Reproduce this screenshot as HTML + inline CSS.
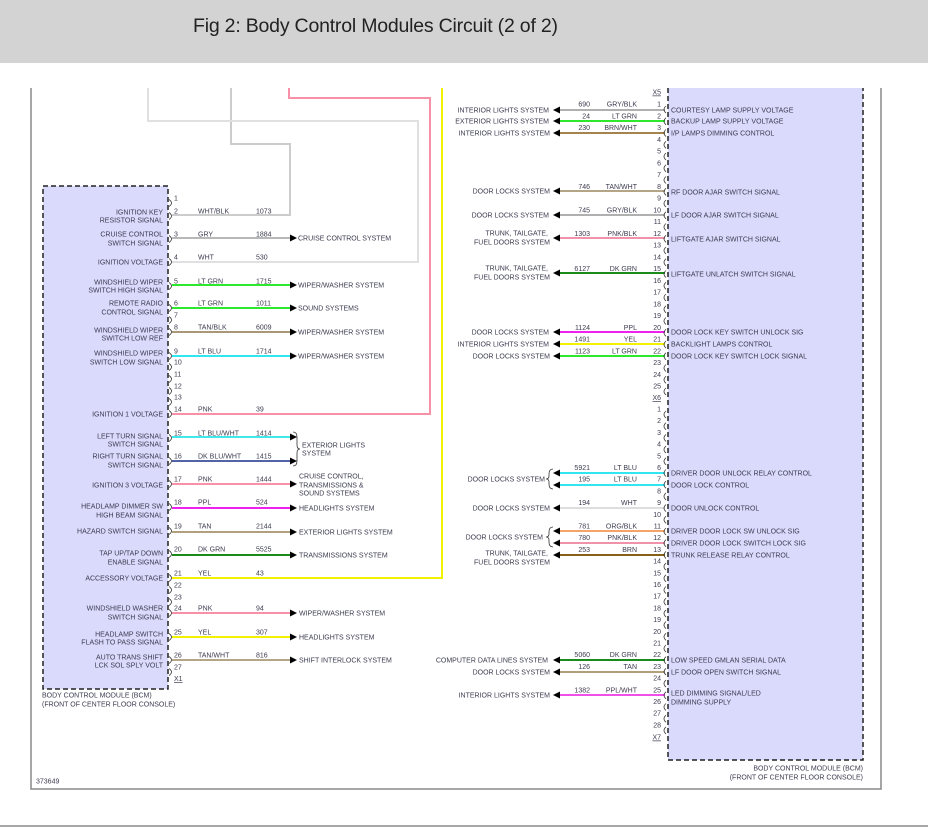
<!DOCTYPE html>
<html><head><meta charset="utf-8"><style>
html,body{margin:0;padding:0;background:#fff;}
svg{display:block;}
text{font-family:"Liberation Sans",Arial,sans-serif;font-size:7px;fill:#3c3c50;}
.t{font-size:19.5px;fill:#222;}
.e{text-anchor:end;}
.w{fill:none;stroke-width:2;}
.c{fill:none;stroke:#333;stroke-width:0.8;}
</style></head><body>
<svg width="928" height="827" viewBox="0 0 928 827" xmlns="http://www.w3.org/2000/svg">
<rect x="0" y="0" width="928" height="63" fill="#d3d3d3"/>
<text class="t" x="193" y="32" textLength="365">Fig 2: Body Control Modules Circuit (2 of 2)</text>
<line x1="0" y1="826" x2="928" y2="826" stroke="#8a8a8a" stroke-width="1.5"/>
<path d="M31,88 V789 H881 V88" fill="none" stroke="#888" stroke-width="1.5"/>

<!-- modules -->
<rect x="43" y="186" width="125" height="503" fill="#dadafc" stroke="#222" stroke-width="1.5" stroke-dasharray="5,3"/>
<path d="M668,88 V760 H863 V88" fill="#dadafc" stroke="#222" stroke-width="1.5" stroke-dasharray="5,3"/>

<!-- left long wires -->
<path class="w" stroke="#cccccc" d="M172,215 H290 V144 H231 V88"/>
<path class="w" stroke="#e0e0e0" d="M172,262 H418 V121 H148 V88"/>
<path class="w" stroke="#f890a8" d="M172,414 H430 V98 H289 V88"/>
<path class="w" stroke="#f2f200" d="M172,578 H442 V88"/>

<!-- left wires with arrows -->
<path class="w" stroke="#b8b8b8" d="M172,238 H290"/>
<path class="w" stroke="#2ee82e" d="M172,285 H290"/>
<path class="w" stroke="#2ee82e" d="M172,308 H290"/>
<path class="w" stroke="#a89878" d="M172,332 H290"/>
<path class="w" stroke="#30e6f0" d="M172,356 H290"/>
<path class="w" stroke="#40e8ec" d="M172,437 H290"/>
<path class="w" stroke="#5363a8" d="M172,461 H290"/>
<path class="w" stroke="#f890a8" d="M172,484 H290"/>
<path class="w" stroke="#f020f0" d="M172,508 H290"/>
<path class="w" stroke="#b0a07c" d="M172,532 H290"/>
<path class="w" stroke="#1a8a1a" d="M172,555 H290"/>
<path class="w" stroke="#f890a8" d="M172,613 H290"/>
<path class="w" stroke="#f2f200" d="M172,637 H290"/>
<path class="w" stroke="#b3a585" d="M172,660 H290"/>
<g fill="#000">
<polygon points="290,234.5 297,238 290,241.5"/>
<polygon points="290,281.5 297,285 290,288.5"/>
<polygon points="290,304.5 297,308 290,311.5"/>
<polygon points="290,328.5 297,332 290,335.5"/>
<polygon points="290,352.5 297,356 290,359.5"/>
<polygon points="290,433.5 297,437 290,440.5"/>
<polygon points="290,457.5 297,461 290,464.5"/>
<polygon points="290,480.5 297,484 290,487.5"/>
<polygon points="290,504.5 297,508 290,511.5"/>
<polygon points="290,528.5 297,532 290,535.5"/>
<polygon points="290,551.5 297,555 290,558.5"/>
<polygon points="290,609.5 297,613 290,616.5"/>
<polygon points="290,633.5 297,637 290,640.5"/>
<polygon points="290,656.5 297,660 290,663.5"/>
</g>
<path class="c" d="M293,432 Q297,432 297,437 V445 Q297,449 300,449 Q297,449 297,453 V461 Q297,466 293,466"/>

<!-- left connector marks -->
<g class="c">
<path d="M169,199.5 Q174,203 169,206.5"/><path d="M169,212.5 Q174,216 169,219.5"/><path d="M169,235.5 Q174,239 169,242.5"/>
<path d="M169,258.5 Q174,262 169,265.5"/><path d="M169,282.5 Q174,286 169,289.5"/><path d="M169,304.5 Q174,308 169,311.5"/>
<path d="M169,316.5 Q174,320 169,323.5"/><path d="M169,328.5 Q174,332 169,335.5"/><path d="M169,352.5 Q174,356 169,359.5"/>
<path d="M169,363.5 Q174,367 169,370.5"/><path d="M169,375.5 Q174,379 169,382.5"/><path d="M169,387.5 Q174,391 169,394.5"/>
<path d="M169,398.5 Q174,402 169,405.5"/><path d="M169,410.5 Q174,414 169,417.5"/><path d="M169,434.5 Q174,438 169,441.5"/>
<path d="M169,457.5 Q174,461 169,464.5"/><path d="M169,480.5 Q174,484 169,487.5"/><path d="M169,503.5 Q174,507 169,510.5"/>
<path d="M169,527.5 Q174,531 169,534.5"/><path d="M169,550.5 Q174,554 169,557.5"/><path d="M169,574.5 Q174,578 169,581.5"/>
<path d="M169,586.5 Q174,590 169,593.5"/><path d="M169,598.5 Q174,602 169,605.5"/><path d="M169,609.5 Q174,613 169,616.5"/>
<path d="M169,633.5 Q174,637 169,640.5"/><path d="M169,656.5 Q174,660 169,663.5"/><path d="M169,668.5 Q174,672 169,675.5"/>
</g>

<!-- left pin numbers -->
<g>
<text x="174" y="200.5">1</text><text x="174" y="213.5">2</text><text x="174" y="236.5">3</text><text x="174" y="259.5">4</text>
<text x="174" y="283.5">5</text><text x="174" y="305.5">6</text><text x="174" y="317.5">7</text><text x="174" y="329.5">8</text>
<text x="174" y="353.5">9</text><text x="174" y="364.5">10</text><text x="174" y="376.5">11</text><text x="174" y="388.5">12</text>
<text x="174" y="399.5">13</text><text x="174" y="411.5">14</text><text x="174" y="435.5">15</text><text x="174" y="458.5">16</text>
<text x="174" y="481.5">17</text><text x="174" y="504.5">18</text><text x="174" y="528.5">19</text><text x="174" y="551.5">20</text>
<text x="174" y="575.5">21</text><text x="174" y="587.5">22</text><text x="174" y="599.5">23</text><text x="174" y="610.5">24</text>
<text x="174" y="634.5">25</text><text x="174" y="657.5">26</text><text x="174" y="669.5">27</text>
<text x="174" y="681" text-decoration="underline">X1</text>
</g>
<!-- left colors & circuits -->
<g>
<text x="198" y="213.5">WHT/BLK</text><text x="256" y="213.5">1073</text>
<text x="198" y="236.5">GRY</text><text x="256" y="236.5">1884</text>
<text x="198" y="259.5">WHT</text><text x="256" y="259.5">530</text>
<text x="198" y="283.5">LT GRN</text><text x="256" y="283.5">1715</text>
<text x="198" y="305.5">LT GRN</text><text x="256" y="305.5">1011</text>
<text x="198" y="329.5">TAN/BLK</text><text x="256" y="329.5">6009</text>
<text x="198" y="353.5">LT BLU</text><text x="256" y="353.5">1714</text>
<text x="198" y="411.5">PNK</text><text x="256" y="411.5">39</text>
<text x="198" y="435.5">LT BLU/WHT</text><text x="256" y="435.5">1414</text>
<text x="198" y="458.5">DK BLU/WHT</text><text x="256" y="458.5">1415</text>
<text x="198" y="481.5">PNK</text><text x="256" y="481.5">1444</text>
<text x="198" y="504.5">PPL</text><text x="256" y="504.5">524</text>
<text x="198" y="528.5">TAN</text><text x="256" y="528.5">2144</text>
<text x="198" y="551.5">DK GRN</text><text x="256" y="551.5">5525</text>
<text x="198" y="575.5">YEL</text><text x="256" y="575.5">43</text>
<text x="198" y="610.5">PNK</text><text x="256" y="610.5">94</text>
<text x="198" y="634.5">YEL</text><text x="256" y="634.5">307</text>
<text x="198" y="657.5">TAN/WHT</text><text x="256" y="657.5">816</text>
</g>
<!-- left destinations -->
<g>
<text x="298" y="240.5">CRUISE CONTROL SYSTEM</text>
<text x="298" y="287.5">WIPER/WASHER SYSTEM</text>
<text x="298" y="310.5">SOUND SYSTEMS</text>
<text x="298" y="334.5">WIPER/WASHER SYSTEM</text>
<text x="298" y="358.5">WIPER/WASHER SYSTEM</text>
<text x="302" y="447.5">EXTERIOR LIGHTS</text>
<text x="302" y="455.5">SYSTEM</text>
<text x="299" y="478.5">CRUISE CONTROL,</text>
<text x="299" y="487.5">TRANSMISSIONS &amp;</text>
<text x="299" y="495.5">SOUND SYSTEMS</text>
<text x="299" y="510.5">HEADLIGHTS SYSTEM</text>
<text x="299" y="534.5">EXTERIOR LIGHTS SYSTEM</text>
<text x="299" y="557.5">TRANSMISSIONS SYSTEM</text>
<text x="299" y="615.5">WIPER/WASHER SYSTEM</text>
<text x="299" y="639.5">HEADLIGHTS SYSTEM</text>
<text x="299" y="662.5">SHIFT INTERLOCK SYSTEM</text>
</g>
<!-- left module labels -->
<g class="e">
<text class="e" x="163" y="214.5">IGNITION KEY</text><text class="e" x="163" y="222.5">RESISTOR SIGNAL</text>
<text class="e" x="163" y="236.5">CRUISE CONTROL</text><text class="e" x="163" y="245.5">SWITCH SIGNAL</text>
<text class="e" x="163" y="264.5">IGNITION VOLTAGE</text>
<text class="e" x="163" y="284.5">WINDSHIELD WIPER</text><text class="e" x="163" y="292.5">SWITCH HIGH SIGNAL</text>
<text class="e" x="163" y="305.5">REMOTE RADIO</text><text class="e" x="163" y="314.5">CONTROL SIGNAL</text>
<text class="e" x="163" y="332.5">WINDSHIELD WIPER</text><text class="e" x="163" y="340.5">SWITCH LOW REF</text>
<text class="e" x="163" y="355.5">WINDSHIELD WIPER</text><text class="e" x="163" y="364.5">SWITCH LOW SIGNAL</text>
<text class="e" x="163" y="416.5">IGNITION 1 VOLTAGE</text>
<text class="e" x="163" y="438.5">LEFT TURN SIGNAL</text><text class="e" x="163" y="446.5">SWITCH SIGNAL</text>
<text class="e" x="163" y="458.5">RIGHT TURN SIGNAL</text><text class="e" x="163" y="467.5">SWITCH SIGNAL</text>
<text class="e" x="163" y="487.5">IGNITION 3 VOLTAGE</text>
<text class="e" x="163" y="508.5">HEADLAMP DIMMER SW</text><text class="e" x="163" y="517.5">HIGH BEAM SIGNAL</text>
<text class="e" x="163" y="533.5">HAZARD SWITCH SIGNAL</text>
<text class="e" x="163" y="555.5">TAP UP/TAP DOWN</text><text class="e" x="163" y="564.5">ENABLE SIGNAL</text>
<text class="e" x="163" y="580.5">ACCESSORY VOLTAGE</text>
<text class="e" x="163" y="610.5">WINDSHIELD WASHER</text><text class="e" x="163" y="619.5">SWITCH SIGNAL</text>
<text class="e" x="163" y="636.5">HEADLAMP SWITCH</text><text class="e" x="163" y="644.5">FLASH TO PASS SIGNAL</text>
<text class="e" x="163" y="659.5">AUTO TRANS SHIFT</text><text class="e" x="163" y="667.5">LCK SOL SPLY VOLT</text>
</g>
<text x="42" y="697.5">BODY CONTROL MODULE (BCM)</text>
<text x="42" y="706.5">(FRONT OF CENTER FLOOR CONSOLE)</text>
<text x="36" y="783.5">373649</text>

<!-- right wires -->
<path class="w" stroke="#b0b0b0" d="M560,110 H665"/>
<path class="w" stroke="#2ee82e" d="M560,121 H665"/>
<path class="w" stroke="#a4844c" d="M560,133 H665"/>
<path class="w" stroke="#b3a585" d="M560,191 H665"/>
<path class="w" stroke="#b0b0b0" d="M560,215 H665"/>
<path class="w" stroke="#f092aa" d="M560,238 H665"/>
<path class="w" stroke="#1a8a1a" d="M560,273 H665"/>
<path class="w" stroke="#f020f0" d="M560,332 H665"/>
<path class="w" stroke="#f2f200" d="M560,344 H665"/>
<path class="w" stroke="#2ee82e" d="M560,356 H665"/>
<path class="w" stroke="#30e6f0" d="M560,473 H665"/>
<path class="w" stroke="#30e6f0" d="M560,485 H665"/>
<path class="w" stroke="#dedede" d="M560,508 H665"/>
<path class="w" stroke="#f4a468" d="M560,531 H665"/>
<path class="w" stroke="#f092aa" d="M560,543 H665"/>
<path class="w" stroke="#866018" d="M560,555 H665"/>
<path class="w" stroke="#1a8a1a" d="M560,660 H665"/>
<path class="w" stroke="#b0a07c" d="M560,672 H665"/>
<path class="w" stroke="#f050e8" d="M560,695 H665"/>
<g fill="#000">
<polygon points="553,110 560,106.5 560,113.5"/>
<polygon points="553,121 560,117.5 560,124.5"/>
<polygon points="553,133 560,129.5 560,136.5"/>
<polygon points="553,191 560,187.5 560,194.5"/>
<polygon points="553,215 560,211.5 560,218.5"/>
<polygon points="553,238 560,234.5 560,241.5"/>
<polygon points="553,273 560,269.5 560,276.5"/>
<polygon points="553,332 560,328.5 560,335.5"/>
<polygon points="553,344 560,340.5 560,347.5"/>
<polygon points="553,356 560,352.5 560,359.5"/>
<polygon points="553,473 560,469.5 560,476.5"/>
<polygon points="553,485 560,481.5 560,488.5"/>
<polygon points="553,508 560,504.5 560,511.5"/>
<polygon points="553,531 560,527.5 560,534.5"/>
<polygon points="553,543 560,539.5 560,546.5"/>
<polygon points="553,555 560,551.5 560,558.5"/>
<polygon points="553,660 560,656.5 560,663.5"/>
<polygon points="553,672 560,668.5 560,675.5"/>
<polygon points="553,695 560,691.5 560,698.5"/>
</g>
<path class="c" d="M553,469 Q549,469 549,474 V476 Q549,479 546,479 Q549,479 549,482 V484 Q549,489 553,489"/>
<path class="c" d="M553,527 Q549,527 549,532 V534 Q549,537 546,537 Q549,537 549,540 V542 Q549,547 553,547"/>

<!-- right connector marks -->
<g class="c">
<path d="M666,106 Q662,109.5 666,113"/><path d="M666,117.8 Q662,121.3 666,124.8"/><path d="M666,129.5 Q662,133 666,136.5"/>
<path d="M666,141.3 Q662,144.8 666,148.3"/><path d="M666,153 Q662,156.5 666,160"/><path d="M666,164.8 Q662,168.3 666,171.8"/>
<path d="M666,176.5 Q662,180 666,183.5"/><path d="M666,188.3 Q662,191.8 666,195.3"/><path d="M666,200 Q662,203.5 666,207"/>
<path d="M666,211.8 Q662,215.3 666,218.8"/><path d="M666,223.5 Q662,227 666,230.5"/><path d="M666,235.3 Q662,238.8 666,242.3"/>
<path d="M666,247 Q662,250.5 666,254"/><path d="M666,258.8 Q662,262.3 666,265.8"/><path d="M666,270.5 Q662,274 666,277.5"/>
<path d="M666,282.3 Q662,285.8 666,289.3"/><path d="M666,294 Q662,297.5 666,301"/><path d="M666,305.8 Q662,309.3 666,312.8"/>
<path d="M666,317.5 Q662,321 666,324.5"/><path d="M666,329.3 Q662,332.8 666,336.3"/><path d="M666,341 Q662,344.5 666,348"/>
<path d="M666,352.8 Q662,356.3 666,359.8"/><path d="M666,364.5 Q662,368 666,371.5"/><path d="M666,376.3 Q662,379.8 666,383.3"/>
<path d="M666,388 Q662,391.5 666,395"/>
<path d="M666,411 Q662,414.5 666,418"/><path d="M666,422.7 Q662,426.2 666,429.7"/><path d="M666,434.4 Q662,437.9 666,441.4"/>
<path d="M666,446.1 Q662,449.6 666,453.1"/><path d="M666,457.8 Q662,461.3 666,464.8"/><path d="M666,469.5 Q662,473 666,476.5"/>
<path d="M666,481.2 Q662,484.7 666,488.2"/><path d="M666,492.9 Q662,496.4 666,499.9"/><path d="M666,504.6 Q662,508.1 666,511.6"/>
<path d="M666,516.3 Q662,519.8 666,523.3"/><path d="M666,528 Q662,531.5 666,535"/><path d="M666,539.7 Q662,543.2 666,546.7"/>
<path d="M666,551.4 Q662,554.9 666,558.4"/><path d="M666,563.1 Q662,566.6 666,570.1"/><path d="M666,574.8 Q662,578.3 666,581.8"/>
<path d="M666,586.5 Q662,590 666,593.5"/><path d="M666,598.2 Q662,601.7 666,605.2"/><path d="M666,609.9 Q662,613.4 666,616.9"/>
<path d="M666,621.6 Q662,625.1 666,628.6"/><path d="M666,633.3 Q662,636.8 666,640.3"/><path d="M666,645 Q662,648.5 666,652"/>
<path d="M666,656.7 Q662,660.2 666,663.7"/><path d="M666,668.4 Q662,671.9 666,674.9"/><path d="M666,680.1 Q662,683.6 666,687.1"/>
<path d="M666,691.8 Q662,695.3 666,698.8"/><path d="M666,703.5 Q662,707 666,710.5"/><path d="M666,715.2 Q662,718.7 666,722.2"/>
<path d="M666,726.9 Q662,730.4 666,733.9"/>
</g>

<!-- right pin numbers -->
<g>
<text class="e" x="661" y="94.5" text-decoration="underline">X5</text>
<text class="e" x="661" y="106.5">1</text><text class="e" x="661" y="118.3">2</text><text class="e" x="661" y="130">3</text>
<text class="e" x="661" y="141.8">4</text><text class="e" x="661" y="153.5">5</text><text class="e" x="661" y="165.3">6</text>
<text class="e" x="661" y="177">7</text><text class="e" x="661" y="188.8">8</text><text class="e" x="661" y="200.5">9</text>
<text class="e" x="661" y="212.3">10</text><text class="e" x="661" y="224">11</text><text class="e" x="661" y="235.8">12</text>
<text class="e" x="661" y="247.5">13</text><text class="e" x="661" y="259.3">14</text><text class="e" x="661" y="271">15</text>
<text class="e" x="661" y="282.8">16</text><text class="e" x="661" y="294.5">17</text><text class="e" x="661" y="306.3">18</text>
<text class="e" x="661" y="318">19</text><text class="e" x="661" y="329.8">20</text><text class="e" x="661" y="341.5">21</text>
<text class="e" x="661" y="353.3">22</text><text class="e" x="661" y="365">23</text><text class="e" x="661" y="376.8">24</text>
<text class="e" x="661" y="388.5">25</text>
<text class="e" x="661" y="400" text-decoration="underline">X6</text>
<text class="e" x="661" y="411.5">1</text><text class="e" x="661" y="423.2">2</text><text class="e" x="661" y="434.9">3</text>
<text class="e" x="661" y="446.6">4</text><text class="e" x="661" y="458.3">5</text><text class="e" x="661" y="470">6</text>
<text class="e" x="661" y="481.7">7</text><text class="e" x="661" y="493.4">8</text><text class="e" x="661" y="505.1">9</text>
<text class="e" x="661" y="516.8">10</text><text class="e" x="661" y="528.5">11</text><text class="e" x="661" y="540.2">12</text>
<text class="e" x="661" y="551.9">13</text><text class="e" x="661" y="563.6">14</text><text class="e" x="661" y="575.3">15</text>
<text class="e" x="661" y="587">16</text><text class="e" x="661" y="598.7">17</text><text class="e" x="661" y="610.4">18</text>
<text class="e" x="661" y="622.1">19</text><text class="e" x="661" y="633.8">20</text><text class="e" x="661" y="645.5">21</text>
<text class="e" x="661" y="657.2">22</text><text class="e" x="661" y="668.9">23</text><text class="e" x="661" y="680.6">24</text>
<text class="e" x="661" y="692.3">25</text><text class="e" x="661" y="704">26</text><text class="e" x="661" y="715.7">27</text>
<text class="e" x="661" y="727.4">28</text>
<text class="e" x="661" y="739.5" text-decoration="underline">X7</text>
</g>
<!-- right circuits & colors -->
<g>
<text class="e" x="590" y="106.5">690</text><text class="e" x="637" y="106.5">GRY/BLK</text>
<text class="e" x="590" y="118.3">24</text><text class="e" x="637" y="118.3">LT GRN</text>
<text class="e" x="590" y="130">230</text><text class="e" x="637" y="130">BRN/WHT</text>
<text class="e" x="590" y="188.8">746</text><text class="e" x="637" y="188.8">TAN/WHT</text>
<text class="e" x="590" y="212.3">745</text><text class="e" x="637" y="212.3">GRY/BLK</text>
<text class="e" x="590" y="235.8">1303</text><text class="e" x="637" y="235.8">PNK/BLK</text>
<text class="e" x="590" y="271">6127</text><text class="e" x="637" y="271">DK GRN</text>
<text class="e" x="590" y="329.8">1124</text><text class="e" x="637" y="329.8">PPL</text>
<text class="e" x="590" y="341.5">1491</text><text class="e" x="637" y="341.5">YEL</text>
<text class="e" x="590" y="353.3">1123</text><text class="e" x="637" y="353.3">LT GRN</text>
<text class="e" x="590" y="470">5921</text><text class="e" x="637" y="470">LT BLU</text>
<text class="e" x="590" y="481.7">195</text><text class="e" x="637" y="481.7">LT BLU</text>
<text class="e" x="590" y="505.1">194</text><text class="e" x="637" y="505.1">WHT</text>
<text class="e" x="590" y="528.5">781</text><text class="e" x="637" y="528.5">ORG/BLK</text>
<text class="e" x="590" y="540.2">780</text><text class="e" x="637" y="540.2">PNK/BLK</text>
<text class="e" x="590" y="551.9">253</text><text class="e" x="637" y="551.9">BRN</text>
<text class="e" x="590" y="657.2">5060</text><text class="e" x="637" y="657.2">DK GRN</text>
<text class="e" x="590" y="668.9">126</text><text class="e" x="637" y="668.9">TAN</text>
<text class="e" x="590" y="692.3">1382</text><text class="e" x="637" y="692.3">PPL/WHT</text>
</g>
<!-- right destinations -->
<g>
<text class="e" x="549" y="112.5">INTERIOR LIGHTS SYSTEM</text>
<text class="e" x="549" y="123.5">EXTERIOR LIGHTS SYSTEM</text>
<text class="e" x="550" y="135.5">INTERIOR LIGHTS SYSTEM</text>
<text class="e" x="550" y="193.5">DOOR LOCKS SYSTEM</text>
<text class="e" x="549" y="217.5">DOOR LOCKS SYSTEM</text>
<text class="e" x="548" y="235.5">TRUNK, TAILGATE,</text>
<text class="e" x="550" y="244.5">FUEL DOORS SYSTEM</text>
<text class="e" x="548" y="270.5">TRUNK, TAILGATE,</text>
<text class="e" x="550" y="279.5">FUEL DOORS SYSTEM</text>
<text class="e" x="549" y="334.5">DOOR LOCKS SYSTEM</text>
<text class="e" x="549" y="346.5">INTERIOR LIGHTS SYSTEM</text>
<text class="e" x="550" y="358.5">DOOR LOCKS SYSTEM</text>
<text class="e" x="545" y="481.5">DOOR LOCKS SYSTEM</text>
<text class="e" x="550" y="510.5">DOOR LOCKS SYSTEM</text>
<text class="e" x="543" y="539.5">DOOR LOCKS SYSTEM</text>
<text class="e" x="548" y="555.5">TRUNK, TAILGATE,</text>
<text class="e" x="550" y="564.5">FUEL DOORS SYSTEM</text>
<text class="e" x="548" y="662.5">COMPUTER DATA LINES SYSTEM</text>
<text class="e" x="550" y="674.5">DOOR LOCKS SYSTEM</text>
<text class="e" x="550" y="697.5">INTERIOR LIGHTS SYSTEM</text>
</g>
<!-- right module labels -->
<g>
<text x="671" y="112.5">COURTESY LAMP SUPPLY VOLTAGE</text>
<text x="671" y="123.5">BACKUP LAMP SUPPLY VOLTAGE</text>
<text x="671" y="135.5">I/P LAMPS DIMMING CONTROL</text>
<text x="671" y="194.5">RF DOOR AJAR SWITCH SIGNAL</text>
<text x="671" y="217.5">LF DOOR AJAR SWITCH SIGNAL</text>
<text x="671" y="241.5">LIFTGATE AJAR SWITCH SIGNAL</text>
<text x="671" y="276.5">LIFTGATE UNLATCH SWITCH SIGNAL</text>
<text x="671" y="334.5">DOOR LOCK KEY SWITCH UNLOCK SIG</text>
<text x="671" y="346.5">BACKLIGHT LAMPS CONTROL</text>
<text x="671" y="358.5">DOOR LOCK KEY SWITCH LOCK SIGNAL</text>
<text x="671" y="475.5">DRIVER DOOR UNLOCK RELAY CONTROL</text>
<text x="671" y="487.5">DOOR LOCK CONTROL</text>
<text x="671" y="510.5">DOOR UNLOCK CONTROL</text>
<text x="671" y="533.5">DRIVER DOOR LOCK SW UNLOCK SIG</text>
<text x="671" y="545.5">DRIVER DOOR LOCK SWITCH LOCK SIG</text>
<text x="671" y="557.5">TRUNK RELEASE RELAY CONTROL</text>
<text x="671" y="662.5">LOW SPEED GMLAN SERIAL DATA</text>
<text x="671" y="674.5">LF DOOR OPEN SWITCH SIGNAL</text>
<text x="671" y="695.5">LED DIMMING SIGNAL/LED</text>
<text x="671" y="704.5">DIMMING SUPPLY</text>
</g>
<text class="e" x="863" y="770.5">BODY CONTROL MODULE (BCM)</text>
<text class="e" x="863" y="779.5">(FRONT OF CENTER FLOOR CONSOLE)</text>
</svg>
</body></html>
